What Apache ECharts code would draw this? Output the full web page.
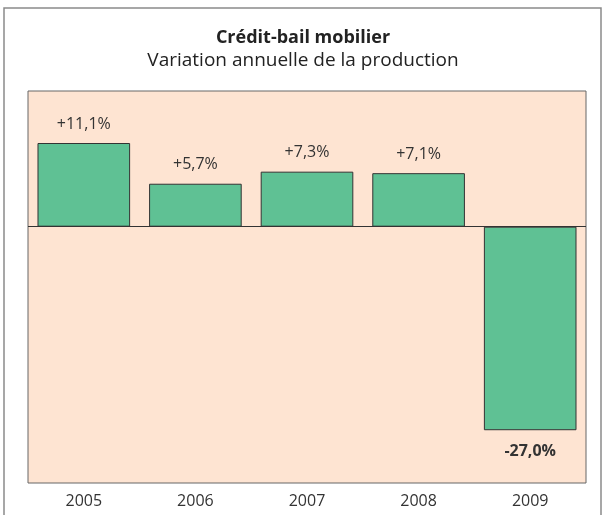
<!DOCTYPE html>
<html>
<head>
<meta charset="utf-8">
<script src="https://cdn.jsdelivr.net/npm/echarts@6/dist/echarts.min.js"></script>
<style>
  html, body { margin: 0; padding: 0; background: #fff; }
  #chart { width: 606px; height: 515px; }
</style>
</head>
<body>
<div id="chart"></div>
<script>
// données
const years = ['2005', '2006', '2007', '2008', '2009']
const variation = [11.1, 5.7, 7.3, 7.1, -27.0]

const chart = echarts.init(document.getElementById('chart'))
const fmt = v => (v > 0 ? '+' : '') + v.toFixed(1).replace('.', ',') + '%'

chart.setOption({
  animation: false,
  graphic: [
    {
      type: 'rect',
      shape: { x: 4, y: 8, width: 597, height: 520 },
      style: { fill: 'none', stroke: '#8a8a8a', lineWidth: 1.5 },
      silent: true
    }
  ],
  title: {
    text: 'Crédit-bail mobilier',
    subtext: 'Variation annuelle de la production',
    left: 'center',
    top: 24,
    itemGap: 4,
    textStyle: { fontFamily: 'Open Sans', fontWeight: 'bold', fontSize: 18, color: '#222' },
    subtextStyle: { fontFamily: 'Open Sans', fontSize: 19, color: '#222' }
  },
  grid: {
    left: 28,
    right: 20,
    top: 91,
    bottom: 32,
    show: true,
    backgroundColor: '#fee4d2',
    borderColor: '#666',
    borderWidth: 1
  },
  xAxis: {
    type: 'category',
    data: years,
    axisLine: { show: false, onZero: false },
    axisTick: { show: false },
    axisLabel: { fontFamily: 'Open Sans', fontSize: 16, color: '#333', margin: 10 }
  },
  yAxis: {
    type: 'value',
    min: -34,
    max: 18,
    show: false
  },
  series: [
    {
      type: 'bar',
      data: variation.map(v => v < 0
        ? { value: v, label: { position: 'bottom', fontWeight: 'bold', distance: 13 } }
        : v),
      barCategoryGap: '17%',
      itemStyle: { color: '#5fc194', borderColor: '#333', borderWidth: 1 },
      label: {
        show: true,
        position: 'top',
        distance: 11,
        fontFamily: 'Open Sans',
        fontSize: 16,
        color: '#333',
        formatter: p => fmt(p.value)
      },
      markLine: {
        silent: true,
        symbol: 'none',
        label: { show: false },
        lineStyle: { color: '#333', width: 1, type: 'solid' },
        data: [{ yAxis: 0 }]
      }
    }
  ]
})
</script>
</body>
</html>
